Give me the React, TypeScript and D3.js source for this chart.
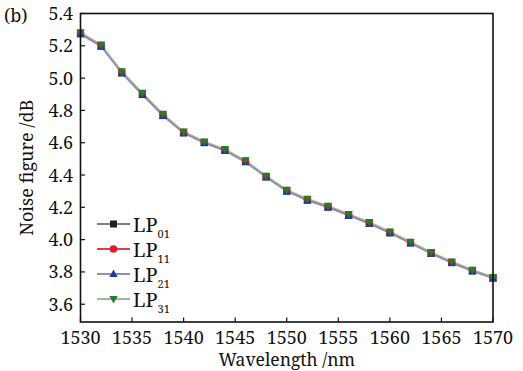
import React from 'react'
import * as d3 from 'd3'

// wavelength samples (nm)
const wavelengths = [1530, 1532, 1534, 1536, 1538, 1540, 1542, 1544, 1546, 1548, 1550,
  1552, 1554, 1556, 1558, 1560, 1562, 1564, 1566, 1568, 1570]

// noise figure (dB) per mode
const lp01 = [5.275, 5.198, 5.032, 4.898, 4.768, 4.661, 4.600, 4.552, 4.482, 4.388, 4.300,
  4.244, 4.201, 4.150, 4.100, 4.042, 3.979, 3.915, 3.857, 3.806, 3.762]
const lp11 = [5.278, 5.201, 5.036, 4.902, 4.772, 4.665, 4.603, 4.556, 4.486, 4.391, 4.304,
  4.248, 4.205, 4.154, 4.104, 4.046, 3.982, 3.918, 3.860, 3.809, 3.765]
const lp21 = [5.272, 5.195, 5.030, 4.895, 4.766, 4.659, 4.598, 4.550, 4.480, 4.386, 4.298,
  4.242, 4.199, 4.148, 4.098, 4.040, 3.977, 3.913, 3.855, 3.804, 3.760]
const lp31 = [5.284, 5.208, 5.043, 4.909, 4.779, 4.670, 4.608, 4.561, 4.491, 4.396, 4.309,
  4.253, 4.210, 4.159, 4.109, 4.051, 3.987, 3.923, 3.865, 3.814, 3.769]

const xTicks = [1530, 1535, 1540, 1545, 1550, 1555, 1560, 1565, 1570]
const yTicks = [3.6, 3.8, 4.0, 4.2, 4.4, 4.6, 4.8, 5.0, 5.2, 5.4]

const series = [
  {name: 'LP', sub: '01', values: lp01, color: '#222222', line: '#555555', lw: 1.2, shape: 'square'},
  {name: 'LP', sub: '11', values: lp11, color: '#d8202a', line: '#d8404a', lw: 1.6, shape: 'circle'},
  {name: 'LP', sub: '21', values: lp21, color: '#1f3b9a', line: '#8a92b8', lw: 1.4, shape: 'triangle'},
  {name: 'LP', sub: '31', values: lp31, color: '#2a7a2a', line: '#a0b8a0', lw: 1.4, shape: 'down'},
]

const layout = {width: 523, height: 371, left: 80.5, right: 493, top: 13.5, bottom: 322}
const ff = {fontFamily: "'Noto Serif'"}

const Marker = ({shape, x, y, color}: {shape: string, x: number, y: number, color: string}) => {
  if (shape === 'square') return <rect x={x - 3.5} y={y - 3.5} width={7} height={7} fill={color} />
  if (shape === 'circle') return <circle cx={x} cy={y} r={3.8} fill={color} />
  if (shape === 'triangle') return <path d={`M${x},${y - 4.5}L${x + 4.2},${y + 3}L${x - 4.2},${y + 3}Z`} fill={color} />
  return <path d={`M${x},${y + 4.5}L${x + 4.2},${y - 3}L${x - 4.2},${y - 3}Z`} fill={color} />
}

export default function App() {
  const xScale = d3.scaleLinear().domain([1530, 1570]).range([layout.left, layout.right])
  const yScale = d3.scaleLinear().domain([3.49, 5.4]).range([layout.bottom, layout.top])
  const line = d3.line<number>()
    .x((d, i) => xScale(wavelengths[i]))
    .y(d => yScale(d))

  const legendX = 97
  const legendY = [224, 249, 274, 299]

  return (
    <svg width={layout.width} height={layout.height}
      style={{position: 'absolute', left: 0, top: 0, background: '#fff'}}>
      <rect x={0} y={0} width={layout.width} height={layout.height} fill="#fff" />
      {/* series lines first, markers on top */}
      {series.map(s => (
        <path key={'l' + s.sub} d={line(s.values) || ''} fill="none" stroke={s.line} strokeWidth={s.lw} />
      ))}
      {series.map(s => (
        <g key={s.sub}>
          {s.values.map((v, i) => (
            <Marker key={i} shape={s.shape} x={xScale(wavelengths[i])} y={yScale(v)} color={s.color} />
          ))}
        </g>
      ))}
      {/* frame */}
      <rect x={layout.left} y={layout.top} width={layout.right - layout.left} height={layout.bottom - layout.top}
        fill="none" stroke="#111" strokeWidth={1.6} />
      {/* x ticks */}
      {xTicks.map(t => (
        <g key={t}>
          <line x1={xScale(t)} x2={xScale(t)} y1={layout.bottom} y2={layout.bottom - 4.5} stroke="#111" strokeWidth={1.2} />
          <text x={xScale(t)} y={343.5} textAnchor="middle" fontSize={18} fill="#111" style={ff}>{t}</text>
        </g>
      ))}
      {/* y ticks */}
      {yTicks.map(t => (
        <g key={t}>
          <line x1={layout.left} x2={layout.left + 4.5} y1={yScale(t)} y2={yScale(t)} stroke="#111" strokeWidth={1.2} />
          <text x={73} y={yScale(t) + 6.5} textAnchor="end" fontSize={18} fill="#111" style={ff}>{t.toFixed(1)}</text>
        </g>
      ))}
      {/* axis titles */}
      <text x={(layout.left + layout.right) / 2} y={366} textAnchor="middle" fontSize={17.5} fill="#111" style={ff}>Wavelength /nm</text>
      <text transform={`translate(33, ${(layout.top + layout.bottom) / 2}) rotate(-90)`} textAnchor="middle"
        fontSize={18} fill="#111" style={ff}>Noise figure /dB</text>
      <text x={4} y={22} fontSize={18} fill="#111" style={ff}>(b)</text>
      {/* legend */}
      {series.map((s, i) => (
        <g key={'lg' + s.sub}>
          <line x1={legendX} x2={legendX + 33} y1={legendY[i]} y2={legendY[i]} stroke={s.line} strokeWidth={s.lw + 0.4} />
          <Marker shape={s.shape} x={legendX + 16.5} y={legendY[i]} color={s.color} />
          <text x={legendX + 36} y={legendY[i] + 7.5} fontSize={20} fill="#111" style={ff}>
            {s.name}
            <tspan fontSize={11} dy={6}>{s.sub}</tspan>
          </text>
        </g>
      ))}
    </svg>
  )
}
